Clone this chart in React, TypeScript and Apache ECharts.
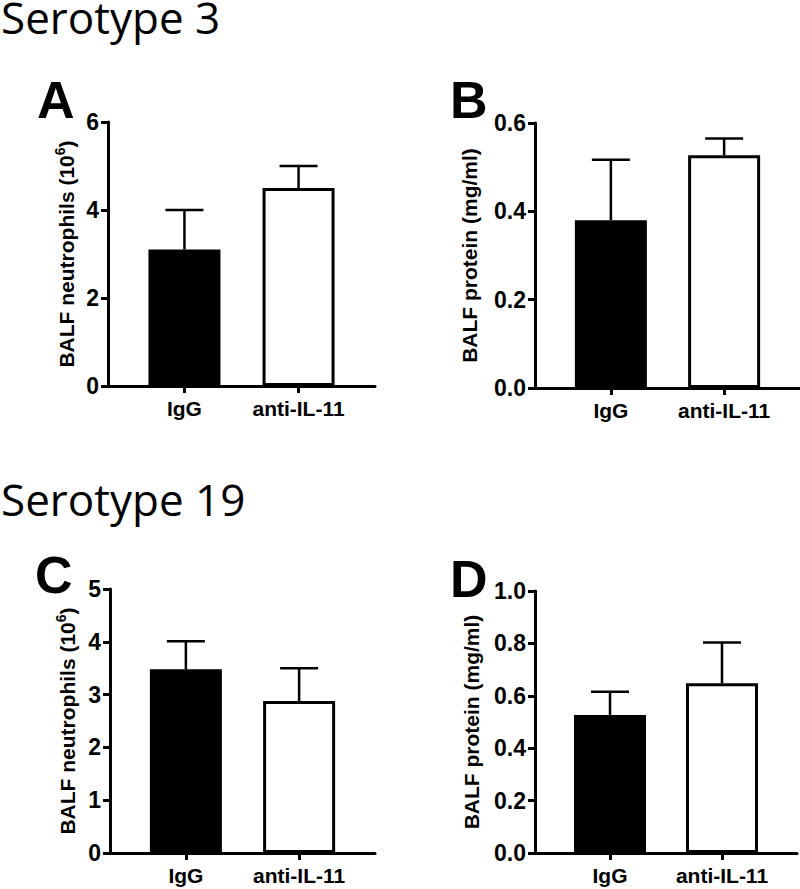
import React, { useEffect, useRef } from "react";
import * as echarts from "echarts";

const groups = ["IgG", "anti-IL-11"];
const groupX = [1, 2];

const neutS3Mean = [3.1, 4.5];
const neutS3Sem = [0.9, 0.5];
const protS3Mean = [0.38, 0.527];
const protS3Sem = [0.137, 0.038];
const neutS19Mean = [3.48, 2.88];
const neutS19Sem = [0.53, 0.62];
const protS19Mean = [0.527, 0.648];
const protS19Sem = [0.088, 0.155];

const yTicksA = { min: 0, max: 6, interval: 2, decimals: 0 };
const yTicksB = { min: 0, max: 0.6, interval: 0.2, decimals: 1 };
const yTicksC = { min: 0, max: 5, interval: 1, decimals: 0 };
const yTicksD = { min: 0, max: 1.0, interval: 0.2, decimals: 1 };

const FONT = "Liberation Sans, Arial, sans-serif";

export default function App() {
  const ref = useRef<HTMLDivElement>(null);
  useEffect(() => {
    if (!ref.current) return;
    const chart = echarts.init(ref.current, null, { renderer: "svg" });

    const panels = [
      { grid: { left: 108, top: 122, width: 267, height: 264 }, y: yTicksA, mean: neutS3Mean, sem: neutS3Sem, name: "neut", nameGap: 29 },
      { grid: { left: 535, top: 123, width: 265, height: 265 }, y: yTicksB, mean: protS3Mean, sem: protS3Sem, name: "prot", nameGap: 53 },
      { grid: { left: 110, top: 589, width: 265, height: 264 }, y: yTicksC, mean: neutS19Mean, sem: neutS19Sem, name: "neut", nameGap: 30 },
      { grid: { left: 535, top: 591, width: 262, height: 262 }, y: yTicksD, mean: protS19Mean, sem: protS19Sem, name: "prot", nameGap: 51 },
    ];

    const axisLine = { lineStyle: { color: "#000", width: 3 } };
    const axisTickStyle = { lineStyle: { color: "#000", width: 3 }, length: 7 };

    const grids = panels.map((p) => ({ ...p.grid, containLabel: false }));
    const xAxes = panels.map((p, i) => ({
      type: "value",
      gridIndex: i,
      min: 0.33,
      max: 2.67,
      splitLine: { show: false },
      axisLine: { show: true, onZero: false, ...axisLine },
      axisTick: { show: true, customValues: groupX, ...axisTickStyle },
      axisLabel: {
        customValues: groupX,
        formatter: (v: number) => groups[Math.round(v) - 1] ?? "",
        color: "#000",
        fontWeight: "bold",
        fontFamily: FONT,
        fontSize: 21,
        margin: 12,
      },
    }));
    const yAxes = panels.map((p, i) => ({
      type: "value",
      gridIndex: i,
      min: p.y.min,
      max: p.y.max,
      interval: p.y.interval,
      splitLine: { show: false },
      axisLine: { show: true, ...axisLine },
      axisTick: { show: true, ...axisTickStyle },
      axisLabel: {
        formatter: (v: number) => v.toFixed(p.y.decimals),
        color: "#000",
        fontWeight: "bold",
        fontFamily: FONT,
        fontSize: 23,
        margin: 9,
      },
      name:
        p.name === "neut"
          ? "{a|BALF neutrophils (10}{s|6}{a|)}"
          : "{a|BALF protein (mg/ml)}",
      nameLocation: "middle",
      nameRotate: 90,
      nameGap: p.nameGap,
      nameTextStyle: {
        color: "#000",
        fontWeight: "bold",
        fontFamily: FONT,
        fontSize: 21,
        rich: {
          a: { color: "#000", fontWeight: "bold", fontFamily: FONT, fontSize: 21, lineHeight: 26 },
          s: { color: "#000", fontWeight: "bold", fontFamily: FONT, fontSize: 14, lineHeight: 26, verticalAlign: "top" },
        },
      },
    }));

    const series: any[] = [];
    panels.forEach((p, i) => {
      series.push({
        type: "bar",
        xAxisIndex: i,
        yAxisIndex: i,
        barWidth: 72,
        data: p.mean.map((m, j) => ({
          value: [groupX[j], m],
          itemStyle:
            j === 0
              ? { color: "#000", borderColor: "#000", borderWidth: 0 }
              : { color: "#fff", borderColor: "#000", borderWidth: 3 },
        })),
      });
      series.push({
        type: "custom",
        xAxisIndex: i,
        yAxisIndex: i,
        clip: false,
        z: 3,
        encode: { x: 0, y: 1 },
        data: p.mean.map((m, j) => [groupX[j], m, p.sem[j]]),
        renderItem: (params: any, api: any) => {
          const x = api.value(0);
          const m = api.value(1);
          const s = api.value(2);
          const p0 = api.coord([x, m]);
          const p1 = api.coord([x, m + s]);
          const st = { stroke: "#000", lineWidth: 2.5 };
          return {
            type: "group",
            children: [
              { type: "line", shape: { x1: p0[0], y1: p0[1], x2: p1[0], y2: p1[1] }, style: st },
              { type: "line", shape: { x1: p1[0] - 19, y1: p1[1], x2: p1[0] + 19, y2: p1[1] }, style: st },
            ],
          };
        },
      });
    });

    const titleStyle = { fill: "#000", fontFamily: "Open Sans, sans-serif", fontSize: 44, lineHeight: 32, verticalAlign: "middle" };
    const letterStyle = { fill: "#000", fontFamily: FONT, fontWeight: "bold", fontSize: 52, lineHeight: 44, verticalAlign: "middle" };

    chart.setOption({
      animation: false,
      backgroundColor: "#fff",
      grid: grids,
      xAxis: xAxes,
      yAxis: yAxes,
      series,
      graphic: [
        { type: "text", x: 1, y: 17, style: { ...titleStyle, text: "Serotype 3" } },
        { type: "text", x: 1, y: 499, style: { ...titleStyle, text: "Serotype 19" } },
        { type: "text", x: 37, y: 100, style: { ...letterStyle, text: "A" } },
        { type: "text", x: 450, y: 100, style: { ...letterStyle, text: "B" } },
        { type: "text", x: 35, y: 575, style: { ...letterStyle, text: "C" } },
        { type: "text", x: 450, y: 579, style: { ...letterStyle, text: "D" } },
      ],
    });
    return () => chart.dispose();
  }, []);
  return (
    <div
      ref={ref}
      style={{ position: "fixed", left: 0, top: 0, width: 800, height: 889, background: "#fff" }}
    />
  );
}
